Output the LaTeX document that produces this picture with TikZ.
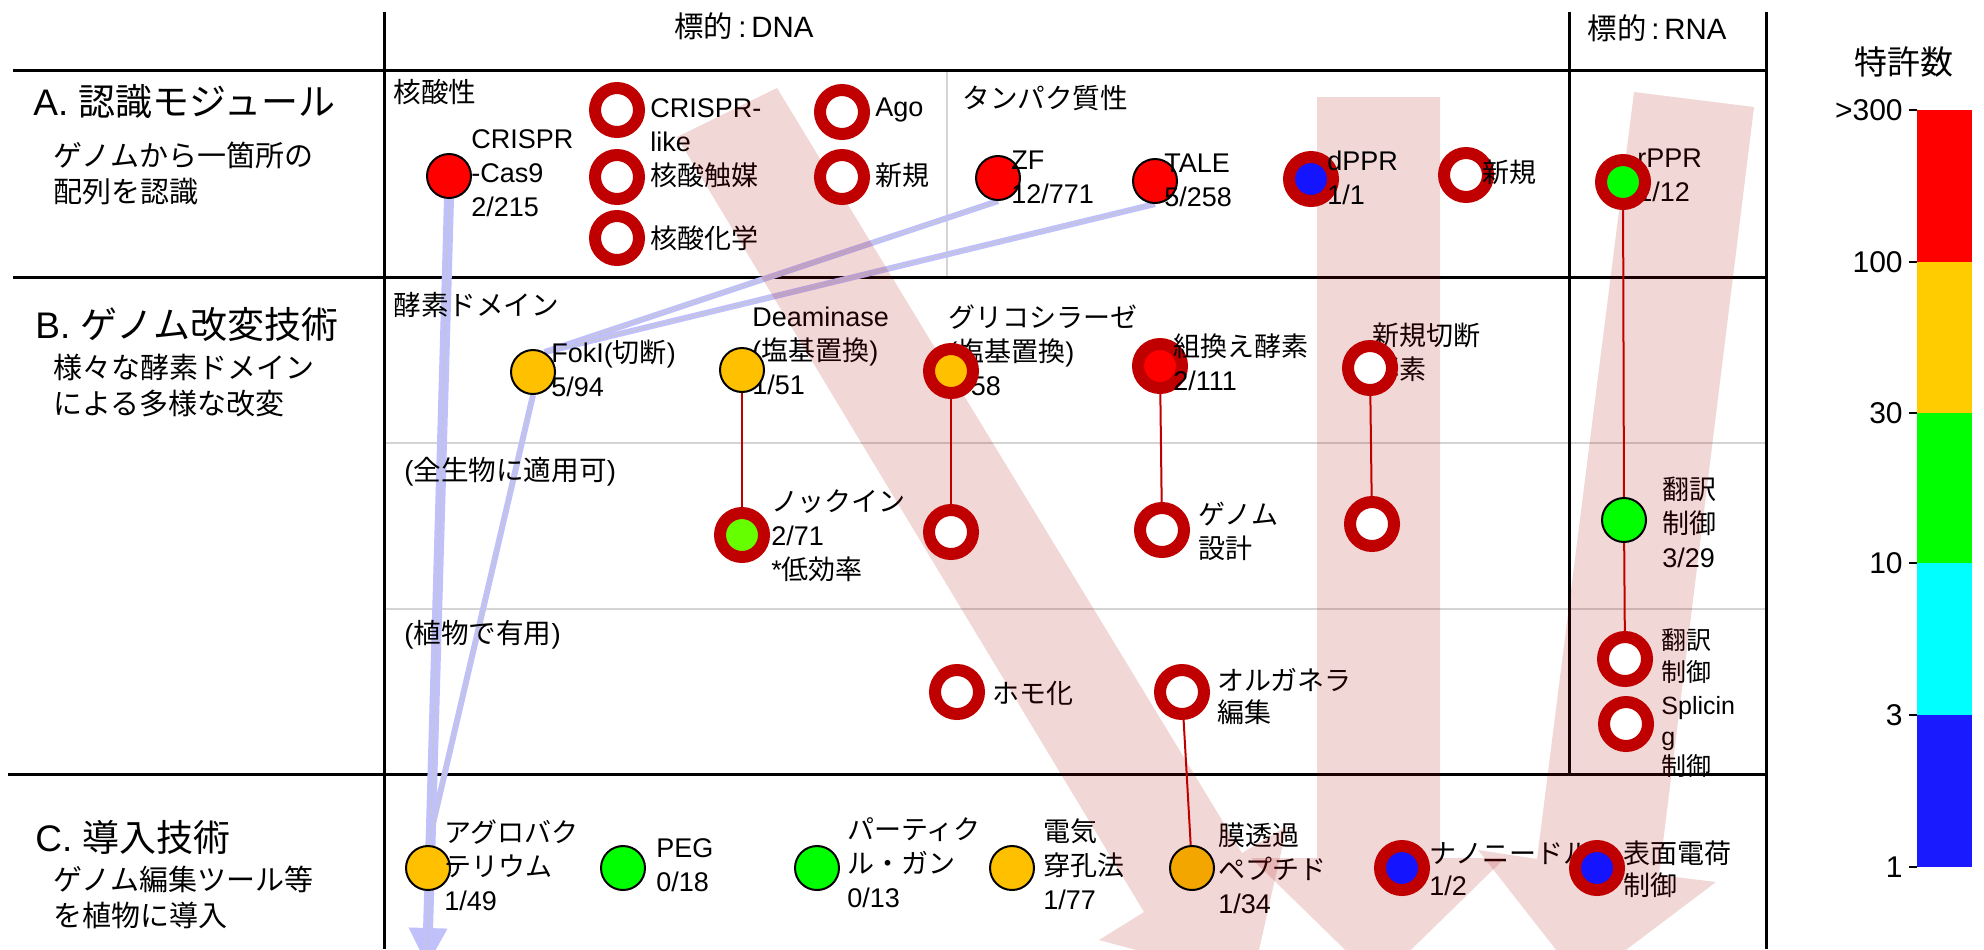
\documentclass[tikz,border=0pt]{standalone}
\usepackage{fontspec}
\setmainfont{Liberation Sans}
\newfontfamily\jpfont{Noto Sans CJK JP}
\usetikzlibrary{arrows.meta}
\XeTeXinterchartokenstate=1
\newXeTeXintercharclass\JPclass
\makeatletter
\count@="3000
\loop\ifnum\count@<"3100 \XeTeXcharclass\count@=\JPclass\relax\advance\count@ by 1 \repeat
\count@="4E00
\loop\ifnum\count@<"A000 \XeTeXcharclass\count@=\JPclass\relax\advance\count@ by 1 \repeat
\count@="FF00
\loop\ifnum\count@<"FFF0 \XeTeXcharclass\count@=\JPclass\relax\advance\count@ by 1 \repeat
\makeatother
\XeTeXinterchartoks 0 \JPclass={\jpfont}
\XeTeXinterchartoks 4095 \JPclass={\jpfont}
\XeTeXinterchartoks \JPclass 0={\normalfont}
\XeTeXinterchartoks 4095 0={\normalfont}

\definecolor{ringred}{RGB}{192,0,0}
\definecolor{fred}{RGB}{255,0,0}
\definecolor{fyel}{RGB}{255,192,0}
\definecolor{fgrn}{RGB}{0,255,0}
\definecolor{flime}{RGB}{102,255,0}
\definecolor{fblue}{RGB}{20,20,255}
\definecolor{forg}{RGB}{244,166,0}
\definecolor{bluel}{RGB}{192,192,250}
\definecolor{pinkar}{RGB}{170,0,0}
\definecolor{gridgray}{RGB}{212,212,212}
\definecolor{cred}{RGB}{255,0,0}
\definecolor{cyel}{RGB}{255,204,0}
\definecolor{cgrn}{RGB}{0,255,0}
\definecolor{ccyan}{RGB}{0,255,255}
\definecolor{cblu}{RGB}{26,26,255}

\pgfdeclarelayer{bg}
\pgfdeclarelayer{fg}
\pgfdeclarelayer{top}
\pgfdeclarelayer{toptext}
\pgfsetlayers{bg,main,fg,top,toptext}

\begin{document}
\begin{tikzpicture}[x=0.5pt,y=-0.5pt,
  fc/.style={circle,draw=black,line width=1pt,minimum size=22pt,inner sep=0pt,fill=#1},
  rg/.style={circle,draw=ringred,line width=6pt,minimum size=22pt,inner sep=0pt,fill=#1},
  rg/.default=white,
  lab/.style={anchor=west,align=left,inner sep=0pt,font=\fontsize{13.5}{17}\selectfont},
  sec/.style={anchor=west,inner sep=0pt,font=\fontsize{13.8}{16}\selectfont},
  ttl/.style={anchor=west,inner sep=0pt,font=\fontsize{18.5}{22}\selectfont},
  sub/.style={anchor=west,align=left,inner sep=0pt,font=\fontsize{14.5}{18}\selectfont},
  hdr/.style={inner sep=0pt,font=\fontsize{14.7}{18}\selectfont},
  cbl/.style={anchor=east,inner sep=0pt,font=\fontsize{15}{18}\selectfont},
  heavy/.style={draw=black,line width=1.5pt},
  thin/.style={draw=gridgray,line width=1.2pt},
  bline/.style={draw=bluel,line width=3pt},
  cline/.style={draw=black!22,line width=0.4pt},
  rline/.style={draw=ringred,line width=1pt},
  pink/.style={fill=pinkar,opacity=0.155}
]
\useasboundingbox (0,0) rectangle (1984,949);

% ---------- row titles ----------
\node[ttl] (tA) at (33,102) {A. 認識モジュール};
\node[sub] (sA) at (53,173) {ゲノムから一箇所の\\配列を認識};
\node[ttl] (tB) at (35,325) {B. ゲノム改変技術};
\node[sub] (sB) at (53,386) {様々な酵素ドメイン\\による多様な改変};
\node[ttl] (tC) at (35,837) {C. 導入技術};
\node[sub] (sC) at (53,897) {ゲノム編集ツール等\\を植物に導入};

% ---------- headers ----------
\node[hdr] (hDNA) at (744,26) {標的\,:\,DNA};
\node[hdr] (hRNA) at (1657,28) {標的\,:\,RNA};
\node[hdr,font=\fontsize{16.5}{20}\selectfont] (hPat) at (1904,62) {特許数};

% ---------- section labels ----------
\node[sec] (s1) at (393,92) {核酸性};
\node[sec] (s2) at (962,98) {タンパク質性};
\node[sec] (s3) at (393,305) {酵素ドメイン};
\node[sec] (s4) at (404,472) {(全生物に適用可)};
\node[sec] (s5) at (404,635) {(植物で有用)};

% ---------- circles (above the pink arrows) ----------
\begin{pgfonlayer}{top}
\node[fc=fred] (crispr) at (449,176) {};
\node[rg] (clike) at (617,110) {};
\node[rg] (ncat) at (617,177) {};
\node[rg] (nchem) at (617,238) {};
\node[rg] (ago) at (842,112) {};
\node[rg] (newA) at (842,177) {};
\node[fc=fred] (zf) at (998,178) {};
\node[fc=fred] (tale) at (1155,181) {};
\node[rg=fblue] (dppr) at (1311,179) {};
\node[rg] (newP) at (1466,175) {};
\node[rg=fgrn] (rppr) at (1623,182) {};
\node[fc=fyel] (foki) at (533,372) {};
\node[fc=fyel] (deam) at (742,370) {};
\node[rg=fyel] (glyc) at (951,371) {};
\node[rg=fred] (recomb) at (1160,366) {};
\node[rg] (newcut) at (1370,368) {};
\node[fc=fgrn] (transl) at (1624,520) {};
\node[rg=flime] (knock) at (742,535) {};
\node[rg] (glyc2) at (951,532) {};
\node[rg] (genome) at (1162,530) {};
\node[rg] (newcut2) at (1372,524) {};
\node[rg] (homo) at (957,692) {};
\node[rg] (organ) at (1182,692) {};
\node[rg] (transl2) at (1625,659) {};
\node[rg] (splice) at (1626,724) {};
\node[fc=fyel] (agro) at (428,868) {};
\node[fc=fgrn] (peg) at (623,868) {};
\node[fc=fgrn] (part) at (817,868) {};
\node[fc=fyel] (elec) at (1012,868) {};
\node[fc=forg] (cpp) at (1192,868) {};
\node[rg=fblue] (nano) at (1402,868) {};
\node[rg=fblue] (surf) at (1597,868) {};
\end{pgfonlayer}

% ---------- labels above their circles ----------
\begin{pgfonlayer}{toptext}
\node[lab] (crisprL) at (471,173) {CRISPR\\-Cas9\\2/215};
\node[lab] (zfL) at (1011,177) {ZF\\12/771};
\node[lab] (taleL) at (1164,180) {TALE\\5/258};
\node[lab] (dpprL) at (1327,178) {dPPR\\1/1};
\node[lab] (newPL) at (1482,172) {新規};
\node[lab] (fokiL) at (551,368) {FokI(切断)\\5/94};
\node[lab] (recombL) at (1173,362) {組換え酵素\\2/111};
\node[lab] (agroL) at (444,865) {アグロバク\\テリウム\\1/49};
\end{pgfonlayer}

% ---------- other labels (beneath circles and pink arrows) ----------
\node[lab] (clikeL) at (650,125) {CRISPR-\\like};
\node[lab] (ncatL) at (650,175) {核酸触媒};
\node[lab] (nchemL) at (650,238) {核酸化学};
\node[lab] (agoL) at (875,110) {Ago};
\node[lab] (newAL) at (875,175) {新規};
\node[lab] (rpprL) at (1637,175) {rPPR\\1/12};
\node[lab] (deamL) at (752,351) {Deaminase\\(塩基置換)\\1/51};
\node[lab] (glycL) at (948,350) {グリコシラーゼ\\(塩基置換)\\1/58};
\node[lab] (newcutL) at (1372,352) {新規切断\\酵素};
\node[lab] (translL) at (1662,522) {翻訳\\制御\\3/29};
\node[lab] (knockL) at (771,536) {ノックイン\\2/71\\*低効率};
\node[lab] (genomeL) at (1198,531) {ゲノム\\設計};
\node[lab] (homoL) at (992,693) {ホモ化};
\node[lab,font=\fontsize{13.5}{16}\selectfont] (organL) at (1217,696) {オルガネラ\\編集};
\node[lab,font=\fontsize{12.5}{16}\selectfont] (transl2L) at (1661,656) {翻訳\\制御};
\node[lab,font=\fontsize{12.5}{15.3}\selectfont] (spliceL) at (1661,737) {Splicin\\g\\制御};
\node[lab] (pegL) at (656,865) {PEG\\0/18};
\node[lab] (partL) at (847,863) {パーティク\\ル・ガン\\0/13};
\node[lab] (elecL) at (1043,864) {電気\\穿孔法\\1/77};
\node[lab] (cppL) at (1218,868) {膜透過\\ペプチド\\1/34};
\node[lab,font=\fontsize{13.5}{16}\selectfont] (nanoL) at (1429,869) {ナノニードル\\1/2};
\node[lab,font=\fontsize{13.5}{16}\selectfont] (surfL) at (1623,869) {表面電荷\\制御};

% ---------- colour bar ----------
\fill[cred] (1917,110) rectangle (1972,262);
\fill[cyel] (1917,262) rectangle (1972,413);
\fill[cgrn] (1917,413) rectangle (1972,563);
\fill[ccyan] (1917,563) rectangle (1972,715);
\fill[cblu] (1917,715) rectangle (1972,867);
\foreach \yy/\tt in {110/{>300},262/100,413/30,563/10,715/3,867/1}{
  \draw[line width=1pt] (1909,\yy) -- (1917,\yy);
  \node[cbl] at (1903,\yy) {\tt};
}

% ---------- grid and blue connectors ----------
\begin{pgfonlayer}{bg}
\draw[thin] (947,70) -- (947,277);
\draw[thin] (384,443) -- (1766,443);
\draw[thin] (384,609) -- (1766,609);
\draw[heavy] (13,70) -- (1766,70);
\draw[heavy] (13,277) -- (1766,277);
\draw[heavy] (8,774) -- (1766,774);
\draw[heavy] (384,12) -- (384,949);
\draw[heavy] (1569,12) -- (1569,774);
\draw[heavy] (1766,12) -- (1766,949);

\coordinate (blueTip) at (427,966);
\draw[bline,line width=5pt,-{Triangle[width=18pt,length=19pt]}] (crispr.south) -- (blueTip);
\draw[cline] (crispr.south) -- (blueTip);
\draw[bline] (zf.south) -- (foki.60);
\draw[cline] (zf.south) -- (foki.60);
\draw[bline] (tale.south) -- (foki.60);
\draw[cline] (tale.south) -- (foki.60);
\draw[bline] (foki.south) -- (agro.north);
\draw[cline] (foki.south) -- (agro.north);
\end{pgfonlayer}

% ---------- big pink arrows, then red connectors ----------
\begin{pgfonlayer}{fg}
\begin{scope}
\clip (0,0) rectangle (1984,949);
\fill[pink] (677,137) -- (777,88) -- (1242,853) -- (1287,826) -- (1252,981)
  -- (1099,940) -- (1144,912) -- cycle;
\fill[pink] (1317,97) -- (1440,97) -- (1440,858) -- (1505,858) -- (1378,982)
  -- (1251,858) -- (1317,858) -- cycle;
\fill[pink] (1634,92) -- (1754,107) -- (1659,875) -- (1716,882) -- (1582,983)
  -- (1478,850) -- (1537,859) -- cycle;
\end{scope}
\draw[rline] (deam) -- (knock);
\draw[rline] (glyc) -- (glyc2);
\draw[rline] (recomb) -- (genome);
\draw[rline] (newcut) -- (newcut2);
\draw[rline] (rppr) -- (transl);
\draw[rline] (transl) -- (transl2);
\draw[rline] (organ) -- (cpp);
\end{pgfonlayer}
\end{tikzpicture}
\end{document}
